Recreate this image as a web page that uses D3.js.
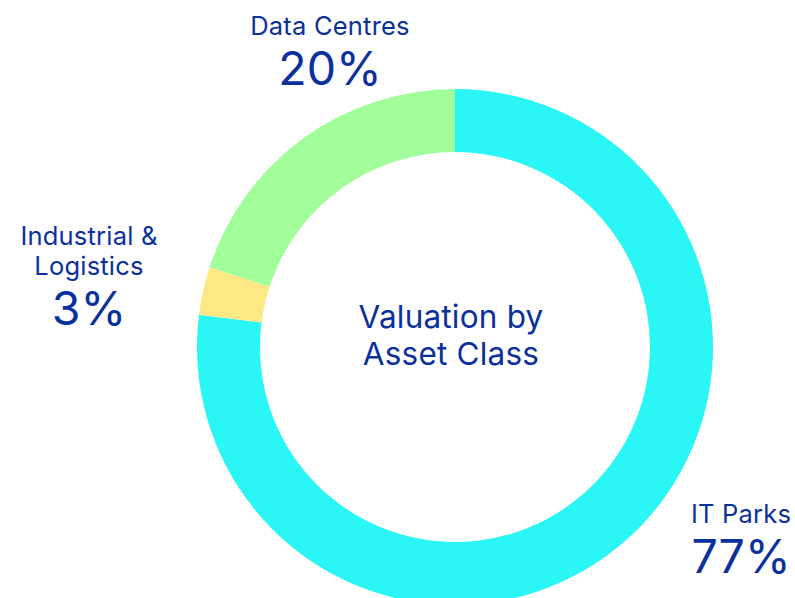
<!DOCTYPE html>
<html>
<head>
<meta charset="utf-8">
<script src="https://cdn.jsdelivr.net/npm/d3@7"></script>
<style>
  body { margin: 0; background: #fff; }
  text { font-family: Inter, "Noto Sans", sans-serif; fill: #0a309e; }
</style>
</head>
<body>
<svg id="chart" width="795" height="598"></svg>
<script>
// data
var categories = ["IT Parks", "Industrial & Logistics", "Data Centres"];
var shares = [77, 3, 20];
var colors = ["#2af6f6", "#fde884", "#a2fe9a"];
var title = ["Valuation by", "Asset Class"];

var width = 795, height = 598;
var cx = 455, cy = 347;
var outerR = 258, innerR = 195;

var svg = d3.select("#chart");
var g = svg.append("g").attr("transform", "translate(" + cx + "," + cy + ")");

var pie = d3.pie().sort(null).value(function(d) { return d; });
var arc = d3.arc().innerRadius(innerR).outerRadius(outerR);
var color = d3.scaleOrdinal().domain(categories).range(colors);

var arcs = pie(shares);

g.selectAll("path.slice")
  .data(arcs)
  .enter().append("path")
  .attr("class", "slice")
  .attr("d", arc)
  .attr("fill", function(d, i) { return color(categories[i]); });

// centre title
g.selectAll("text.title")
  .data(title)
  .enter().append("text")
  .attr("class", "title")
  .attr("text-anchor", "middle")
  .attr("x", -4)
  .attr("y", function(d, i) { return -19 + i * 37; })
  .style("font-size", "31.5px")
  .style("letter-spacing", "0.2px")
  .text(function(d) { return d; });

// labels: name lines + percentage (anchor points set by hand)
var labelPos = [
  { x: 741, y: 523, lines: ["IT Parks"] },
  { x: 89, y: 245, lines: ["Industrial &", "Logistics"] },
  { x: 330, y: 35, lines: ["Data Centres"] }
];

arcs.forEach(function(a, i) {
  var p = labelPos[i];
  var lab = svg.append("g").attr("class", "label");
  p.lines.forEach(function(line, j) {
    lab.append("text")
      .attr("x", p.x)
      .attr("y", p.y + j * 30)
      .attr("text-anchor", "middle")
      .style("font-size", "25.5px")
      .style("letter-spacing", "0.2px")
      .text(line);
  });
  lab.append("text")
    .attr("x", p.x)
    .attr("y", p.y + (p.lines.length - 1) * 30 + 50)
    .attr("text-anchor", "middle")
    .style("font-size", "46.5px")
    .text(d3.format("d")(shares[i]) + "%");
});
</script>
</body>
</html>
